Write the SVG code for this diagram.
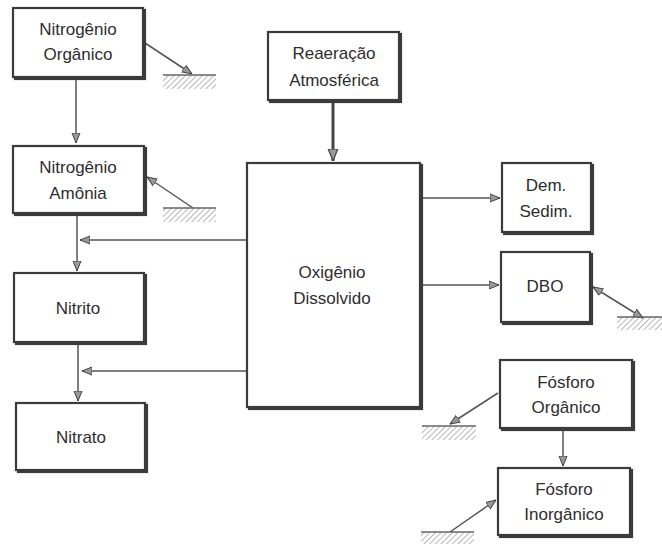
<svg xmlns="http://www.w3.org/2000/svg" width="662" height="544" viewBox="0 0 662 544">
<style>
.box{fill:#fff;stroke:#3a3a3a;stroke-width:2.2;filter:url(#sh)}
.t{font-family:"Liberation Sans",Arial,sans-serif;font-size:17px;fill:#2e2e2e;text-anchor:middle;dominant-baseline:central}
.c{stroke:#555;stroke-width:1.5;fill:none}
.thick{stroke:#444;stroke-width:3;fill:none}
.hatch{fill:url(#hp);stroke:none}
.hline{stroke:#666;stroke-width:1.3}
</style>
<defs>
<filter id="sh" x="-5%" y="-5%" width="115%" height="115%">
<feMorphology in="SourceAlpha" operator="erode" radius="0" result="a"/>
<feOffset in="SourceGraphic" dx="1.5" dy="1.5" result="o"/>
<feMerge><feMergeNode in="o"/><feMergeNode in="SourceGraphic"/></feMerge>
</filter>
<marker id="ah" viewBox="0 0 10 10" refX="10" refY="5" markerWidth="10" markerHeight="10" markerUnits="userSpaceOnUse" orient="auto-start-reverse">
<path d="M0,1 L10,5 L0,9 Z" fill="#999" stroke="#444" stroke-width="1"/>
</marker>
<marker id="ahb" viewBox="0 0 10 10" refX="10" refY="5" markerWidth="12" markerHeight="12" markerUnits="userSpaceOnUse" orient="auto">
<path d="M0,1 L10,5 L0,9 Z" fill="#999" stroke="#444" stroke-width="1"/>
</marker>
<pattern id="hp" width="4" height="4" patternUnits="userSpaceOnUse" patternTransform="rotate(45)">
<line x1="0" y1="0" x2="0" y2="4" stroke="#888" stroke-width="1.2"/>
</pattern>
</defs>

<g id="connectors">
<line class="c" x1="76" y1="77" x2="76" y2="143" marker-end="url(#ah)"/>
<line class="c" x1="77" y1="213" x2="77" y2="271" marker-end="url(#ah)"/>
<line class="c" x1="78" y1="342" x2="78" y2="401" marker-end="url(#ah)"/>
<line class="c" x1="246" y1="240" x2="80" y2="240" marker-end="url(#ah)"/>
<line class="c" x1="246" y1="371" x2="82" y2="371" marker-end="url(#ah)"/>
<line class="thick" x1="333" y1="100" x2="333" y2="161" marker-end="url(#ahb)"/>
<line class="c" x1="421" y1="198" x2="500" y2="198" marker-end="url(#ah)"/>
<line class="c" x1="421" y1="285" x2="499" y2="285" marker-end="url(#ah)"/>
<line class="c" x1="145" y1="43" x2="192" y2="74" marker-end="url(#ah)"/>
<line class="c" x1="193" y1="208" x2="147" y2="177" marker-end="url(#ah)"/>
<line class="c" x1="593" y1="287" x2="643" y2="318" marker-start="url(#ah)" marker-end="url(#ah)"/>
<line class="c" x1="498" y1="393" x2="450" y2="424" marker-end="url(#ah)"/>
<line class="c" x1="563" y1="428" x2="563" y2="466" marker-end="url(#ah)"/>
<line class="c" x1="450" y1="532" x2="496" y2="500" marker-end="url(#ah)"/>
</g>

<g id="sediments">
<rect class="hatch" x="163" y="75" width="53" height="14"/><line class="hline" x1="163" y1="75" x2="216" y2="75"/>
<rect class="hatch" x="163" y="208" width="53" height="14"/><line class="hline" x1="163" y1="208" x2="216" y2="208"/>
<rect class="hatch" x="617" y="317" width="45" height="13"/><line class="hline" x1="617" y1="317" x2="662" y2="317"/>
<rect class="hatch" x="422" y="426" width="54" height="14"/><line class="hline" x1="422" y1="426" x2="476" y2="426"/>
<rect class="hatch" x="421" y="532" width="53" height="12"/><line class="hline" x1="421" y1="532" x2="474" y2="532"/>
</g>

<g id="n-organico">
<rect class="box" x="13" y="8" width="130" height="69"/>
<text class="t" x="78" y="29">Nitrogênio</text>
<text class="t" x="78" y="54">Orgânico</text>
</g>
<g id="n-amonia">
<rect class="box" x="13" y="146" width="131" height="67"/>
<text class="t" x="78" y="167">Nitrogênio</text>
<text class="t" x="78" y="193">Amônia</text>
</g>
<g id="nitrito">
<rect class="box" x="14" y="273" width="130" height="69"/>
<text class="t" x="78" y="308">Nitrito</text>
</g>
<g id="nitrato">
<rect class="box" x="16" y="403" width="129" height="67"/>
<text class="t" x="81" y="437">Nitrato</text>
</g>
<g id="reaeracao">
<rect class="box" x="268" y="32" width="131" height="68"/>
<text class="t" x="334" y="53">Reaeração</text>
<text class="t" x="334" y="80">Atmosférica</text>
</g>
<g id="oxigenio">
<rect class="box" x="247" y="163" width="173" height="244"/>
<text class="t" x="332" y="272">Oxigênio</text>
<text class="t" x="332" y="298">Dissolvido</text>
</g>
<g id="dem-sedim">
<rect class="box" x="502" y="163" width="89" height="69"/>
<text class="t" x="546" y="185">Dem.</text>
<text class="t" x="546" y="211">Sedim.</text>
</g>
<g id="dbo">
<rect class="box" x="501" y="252" width="89" height="70"/>
<text class="t" x="545" y="286">DBO</text>
</g>
<g id="f-organico">
<rect class="box" x="500" y="360" width="132" height="68"/>
<text class="t" x="566" y="382">Fósforo</text>
<text class="t" x="566" y="407">Orgânico</text>
</g>
<g id="f-inorganico">
<rect class="box" x="498" y="468" width="132" height="67"/>
<text class="t" x="564" y="489">Fósforo</text>
<text class="t" x="564" y="514">Inorgânico</text>
</g>
</svg>
